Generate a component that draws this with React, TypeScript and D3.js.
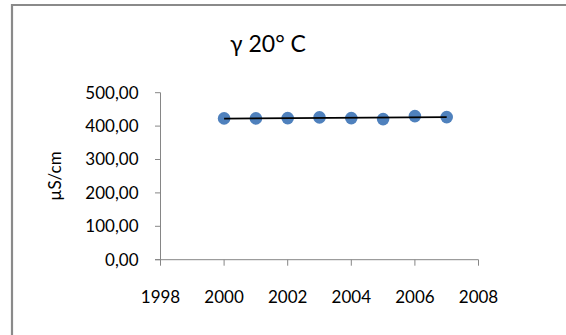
import React from "react";
import * as d3 from "d3";

const years = [2000, 2001, 2002, 2003, 2004, 2005, 2006, 2007];
const values = [423, 423, 424, 426, 424, 421, 430, 427];
const xTicks = [1998, 2000, 2002, 2004, 2006, 2008];
const yTicks = [0, 100, 200, 300, 400, 500];
const title = "γ 20° C";
const yLabel = "µS/cm";

export default function App() {
  const W = 566, H = 335;
  const x = d3.scaleLinear().domain([1998, 2008]).range([160.5, 478.5]);
  const y = d3.scaleLinear().domain([0, 500]).range([259.7, 92.7]);
  const axisColor = "#868686";
  const font = "Lato, 'Open Sans', sans-serif";

  const mx = d3.mean(years) as number;
  const my = d3.mean(values) as number;
  let sxy = 0, sxx = 0;
  years.forEach((yr, i) => { sxy += (yr - mx) * (values[i] - my); sxx += (yr - mx) ** 2; });
  const slope = sxy / sxx;
  const icpt = my - slope * mx;
  const x0 = years[0], x1 = years[years.length - 1];
  const trend = d3.line<number>().x(d => x(d)).y(d => y(icpt + slope * d))([x0, x1]) as string;
  const fmt = (v: number) => v.toFixed(2).replace(".", ",");

  return (
    <>
      <style>{`html,body{margin:0;padding:0;overflow:hidden;background:#fff;}`}</style>
      <svg width={W} height={H} style={{ position: "fixed", left: 0, top: 0, display: "block", background: "#fff", overflow: "hidden" }}>
        <rect x={0} y={0} width={W} height={H} fill="#fff" />
        <path d={`M12,${H + 50} L12,5 L${W + 50},5`} fill="none" stroke="#8a8a8a" strokeWidth={2.2} />
        <text x={268} y={52} textAnchor="middle" fontFamily={font} fontSize={23} fill="#000">{title}</text>
        <text transform={`translate(61,176) rotate(-90)`} textAnchor="middle" fontFamily={font} fontSize={17} fill="#000">{yLabel}</text>
        <line x1={x(1998)} x2={x(1998)} y1={y(500)} y2={y(0)} stroke={axisColor} strokeWidth={1} />
        {yTicks.map(t => (
          <g key={t}>
            <line x1={x(1998) - 5.5} x2={x(1998)} y1={y(t)} y2={y(t)} stroke={axisColor} strokeWidth={1} />
            <text x={138.5} y={y(t)} dy="0.35em" textAnchor="end" fontFamily={font} fontSize={17} fill="#000">{fmt(t)}</text>
          </g>
        ))}
        <line x1={x(1998) - 5.5} x2={x(2008)} y1={y(0)} y2={y(0)} stroke={axisColor} strokeWidth={1} />
        {xTicks.map(t => (
          <g key={t}>
            <line x1={x(t)} x2={x(t)} y1={y(0)} y2={y(0) + 6} stroke={axisColor} strokeWidth={1} />
            <text x={x(t)} y={303.3} textAnchor="middle" fontFamily={font} fontSize={17} fill="#000">{t}</text>
          </g>
        ))}
        {years.map((yr, i) => (
          <circle key={yr} cx={x(yr)} cy={y(values[i])} r={6.3} fill="#4F81BD" />
        ))}
        <path d={trend} stroke="#000" strokeWidth={1.8} fill="none" />
      </svg>
    </>
  );
}
